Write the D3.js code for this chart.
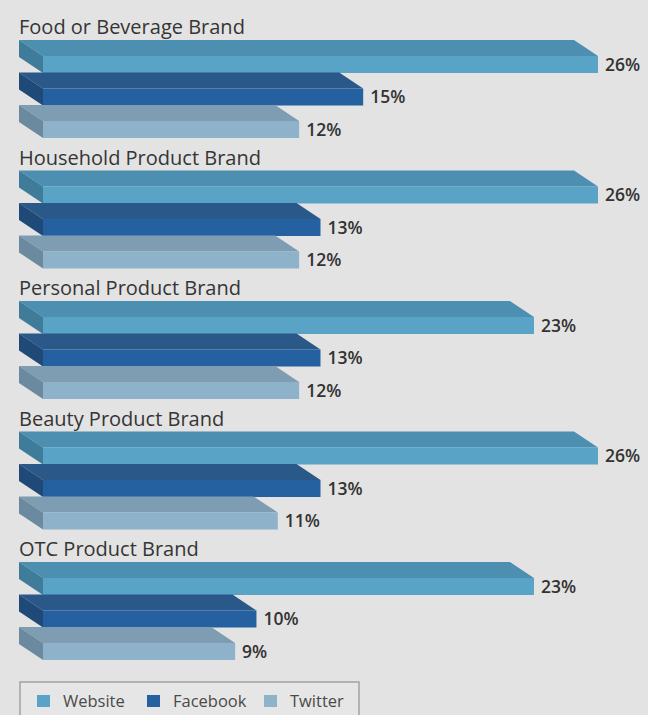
<!DOCTYPE html>
<html>
<head>
<meta charset="utf-8">
<script src="https://cdn.jsdelivr.net/npm/d3@7"></script>
<style>
  html, body { margin: 0; padding: 0; background: #e3e3e3; }
  svg { display: block; }
</style>
</head>
<body>
<svg id="chart" width="648" height="715"></svg>
<script>
// data
var categories = ['Food or Beverage Brand', 'Household Product Brand', 'Personal Product Brand', 'Beauty Product Brand', 'OTC Product Brand'];
var seriesNames = ['Website', 'Facebook', 'Twitter'];
var website = [26, 26, 23, 26, 23];
var facebook = [15, 13, 13, 13, 10];
var twitter = [12, 12, 12, 11, 9];

var series = [website, facebook, twitter];
var colors = [
  {front: '#58a3c6', top: '#4d8fb0', side: '#3f7c99'},
  {front: '#2561a0', top: '#2a5889', side: '#1f4a78'},
  {front: '#8eb2ca', top: '#7e9db2', side: '#6b8aa0'}
];

var opt = {
  depthX: 24,
  depthY: 16,
  barH: 17,
  barPitch: 32.5,
  firstBarTop: 40,
  titleY: 27
};

var svg = d3.select('#chart');
svg.append('rect').attr('width', 648).attr('height', 715).attr('fill', '#e3e3e3');

var x = d3.scaleLinear().domain([0, 26]).range([43, 598]);
var gy = d3.scaleLinear().domain([0, categories.length - 1]).range([0, 522]);

var groups = svg.selectAll('g.grp')
  .data(categories)
  .enter().append('g')
  .attr('class', 'grp')
  .attr('transform', function(d, i){ return 'translate(0,' + gy(i) + ')'; });

groups.append('text')
  .attr('x', 19)
  .attr('y', opt.titleY)
  .attr('dy', '0.35em')
  .attr('fill', '#353535')
  .attr('font-family', 'Open Sans, sans-serif')
  .attr('font-size', 20)
  .text(function(d){ return d; });

groups.each(function(cat, ci){
  var g = d3.select(this);
  for (var s = 0; s < series.length; s++){
    var v = series[s][ci];
    var c = colors[s];
    var x0 = x(0), x1 = x(v);
    var dx = opt.depthX, dy = opt.depthY, h = opt.barH;
    var top = opt.firstBarTop + opt.barPitch * s;
    var ft = top + dy;
    // top face
    g.append('polygon')
      .attr('points', [[x0 - dx, top], [x1 - dx, top], [x1, ft], [x0, ft]].join(' '))
      .attr('fill', c.top);
    // left side face
    g.append('polygon')
      .attr('points', [[x0 - dx, top], [x0, ft], [x0, ft + h], [x0 - dx, top + h]].join(' '))
      .attr('fill', c.side);
    // front face
    g.append('rect')
      .attr('x', x0)
      .attr('y', ft)
      .attr('width', x1 - x0)
      .attr('height', h)
      .attr('fill', c.front);
    g.append('text')
      .attr('x', x1 + 7)
      .attr('y', ft + h / 2)
      .attr('dy', '0.35em')
      .attr('fill', '#333')
      .attr('font-family', 'Open Sans, sans-serif')
      .attr('font-weight', 600)
      .attr('font-size', 17.5)
      .text(v + '%');
  }
});

// legend
var legend = svg.append('g');
legend.append('rect')
  .attr('x', 20).attr('y', 682)
  .attr('width', 339).attr('height', 45)
  .attr('fill', '#e6e6e6')
  .attr('stroke', '#a3a3a3')
  .attr('stroke-width', 1.5);
var legX = [37, 147, 264];
var items = legend.selectAll('g.item')
  .data(seriesNames)
  .enter().append('g')
  .attr('class', 'item')
  .attr('transform', function(d, i){ return 'translate(' + legX[i] + ',0)'; });
items.append('rect')
  .attr('x', 0).attr('y', 695)
  .attr('width', 13).attr('height', 12)
  .attr('fill', function(d, i){ return colors[i].front; });
items.append('text')
  .attr('x', 26)
  .attr('y', 701)
  .attr('dy', '0.35em')
  .attr('fill', '#4a4a4a')
  .attr('font-family', 'Open Sans, sans-serif')
  .attr('font-size', 16.5)
  .text(function(d){ return d; });
</script>
</body>
</html>
